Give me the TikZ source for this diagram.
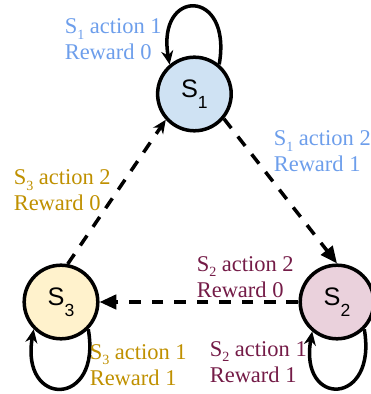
\documentclass[tikz,border=0pt]{standalone}
\usepackage{fontspec}
\setmainfont{Liberation Serif}
\setsansfont{Liberation Sans}
\usetikzlibrary{arrows.meta}
\definecolor{sone}{HTML}{CFE2F3}
\definecolor{stwo}{HTML}{EAD1DC}
\definecolor{sthree}{HTML}{FFF2CC}
\definecolor{tone}{HTML}{6D9EEB}
\definecolor{ttwo}{HTML}{741B47}
\definecolor{tthree}{HTML}{BF9000}
% lowered index as in the drawing
\newcommand{\lowidx}[1]{\raisebox{-4pt}{\fontsize{10}{10}\selectfont #1}}
\begin{document}
\begin{tikzpicture}[line width=2.5pt]
    \tikzstyle{state}=[circle,draw=black,minimum size=1.84cm,inner sep=0pt,font=\sffamily\fontsize{18}{20}\selectfont]
    \tikzstyle{move}=[dash pattern=on 8.5pt off 7.5pt,-{Triangle[length=0.42cm,width=0.36cm]}]
    \tikzstyle{stay}=[-{Stealth[length=0.34cm,width=0.3cm]}]
    \tikzstyle{reward}=[anchor=west,align=left,inner sep=0pt,font=\fontsize{16}{18.5}\selectfont]
    \useasboundingbox (0,0) rectangle (9.275,9.85);
    \foreach \i/\x/\y/\c in {1/4.86/7.5/sone,2/8.425/2.3/stwo,3/1.525/2.3/sthree} {
        \node[state,fill=\c] (s\i) at (\x,\y) {S\raisebox{-8pt}{\fontsize{12.5}{13}\selectfont\i}};
    };

    % self loops
    \draw[stay] (s1.50) .. controls +(80:1.95) and +(100:1.95) .. (s1.130);
    \draw[stay] (s3.-45) .. controls +(-80:2.0) and +(-100:2.0) .. (s3.-135);
    \draw[stay] (s2.-45) .. controls +(-80:1.95) and +(-100:1.95) .. (s2.-130);

    % moves between states
    \draw[move] (s1.-40) -- (s2.north);
    \draw[move] (s2) -- (s3);
    \draw[dash pattern=on 8.5pt off 7.5pt,stay] (s3.80) -- (s1.-138);

    \node[reward,text=tone] (r11) at (1.575,8.86) {S\lowidx{1} action 1\\Reward 0};
    \node[reward,text=tone] (r12) at (6.8,6.06) {S\lowidx{1} action 2\\Reward 1};
    \node[reward,text=tthree] (r32) at (0.3,5.09) {S\lowidx{3} action 2\\Reward 0};
    \node[reward,text=ttwo] (r22) at (4.875,2.925) {S\lowidx{2} action 2\\Reward 0};
    \node[reward,text=tthree] (r31) at (2.2,0.725) {S\lowidx{3} action 1\\Reward 1};
    \node[reward,text=ttwo] (r21) at (5.2,0.8) {S\lowidx{2} action 1\\Reward 1};
\end{tikzpicture}
\end{document}
